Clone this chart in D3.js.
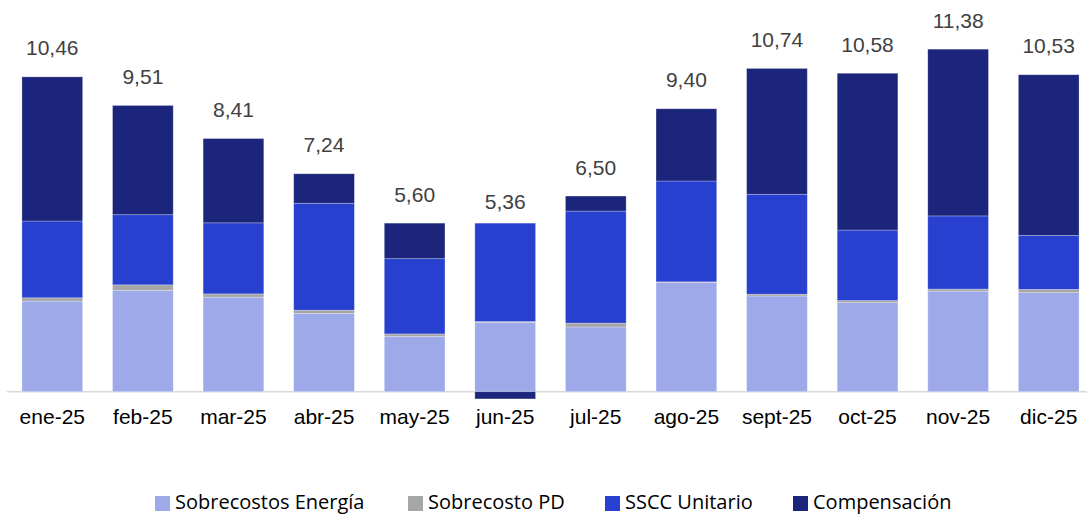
<!DOCTYPE html>
<html>
<head>
<meta charset="utf-8">
<script src="https://cdn.jsdelivr.net/npm/d3@7"></script>
<style>
  body { margin: 0; background: #fff; }
  .tick-label { font-family: Arial, "Liberation Sans", sans-serif; font-size: 21px; fill: #000; }
  .total-label { font-family: Arial, "Liberation Sans", sans-serif; font-size: 21px; fill: #404040; }
  .legend-text { font-family: "Open Sans", sans-serif; font-size: 20px; fill: #000; }
</style>
</head>
<body>
<div class="chart"></div>
<script>
// months and series values
var months = ["ene-25", "feb-25", "mar-25", "abr-25", "may-25", "jun-25",
              "jul-25", "ago-25", "sept-25", "oct-25", "nov-25", "dic-25"];
var energia = [3.01, 3.37, 3.14, 2.60, 1.84, 2.30, 2.15, 3.63, 3.18, 2.96, 3.34, 3.29];
var pd      = [0.11, 0.18, 0.11, 0.11, 0.08, 0.03, 0.13, 0.02, 0.06, 0.07, 0.07, 0.11];
var sscc    = [2.55, 2.33, 2.36, 3.55, 2.50, 3.27, 3.72, 3.35, 3.32, 2.34, 2.43, 1.79];
var compensacion = [4.79, 3.63, 2.80, 0.98, 1.18, -0.24, 0.50, 2.40, 4.18, 5.21, 5.54, 5.34];
var totals = [10.46, 9.51, 8.41, 7.24, 5.60, 5.36, 6.50, 9.40, 10.74, 10.58, 11.38, 10.53];

var seriesNames = ["Sobrecostos Energía", "Sobrecosto PD", "SSCC Unitario", "Compensación"];
var seriesColors = ["#9da9e9", "#a6a6a6", "#2740cf", "#1b257b"];

var svgWidth = 1087;
var svgHeight = 515;

var svg = d3.select(".chart")
    .append("svg")
    .attr("width", svgWidth)
    .attr("height", svgHeight);

// build rows for d3.stack
var rows = months.map(function (m, i) {
    return {
        month: m,
        "Sobrecostos Energía": energia[i],
        "Sobrecosto PD": pd[i],
        "SSCC Unitario": sscc[i],
        "Compensación": compensacion[i]
    };
});

var stacked = d3.stack()
    .keys(seriesNames)
    .offset(d3.stackOffsetDiverging)(rows);

var xScale = d3.scaleBand()
    .domain(months)
    .range([7, 1094])
    .paddingInner(0.33)
    .paddingOuter(0.165);

var yScale = d3.scaleLinear()
    .domain([0, 12])
    .range([391.7, 30.5]);

// axis line
svg.append("line")
    .attr("x1", 7)
    .attr("x2", svgWidth)
    .attr("y1", yScale(0))
    .attr("y2", yScale(0))
    .attr("stroke", "#d9d9d9")
    .attr("stroke-width", 1.5);

// bars
var layers = svg.selectAll("g.layer")
    .data(stacked)
    .enter()
    .append("g")
    .attr("class", "layer")
    .attr("fill", function (d, i) { return seriesColors[i]; });

layers.selectAll("rect")
    .data(function (d) { return d; })
    .enter()
    .append("rect")
    .attr("x", function (d) { return xScale(d.data.month); })
    .attr("y", function (d) { return yScale(Math.max(d[0], d[1])); })
    .attr("width", xScale.bandwidth())
    .attr("height", function (d) { return Math.abs(yScale(d[0]) - yScale(d[1])); })
    .attr("stroke", "rgba(255,255,255,0.35)")
    .attr("stroke-width", 0.75);

// x axis labels
var bottomAxis = d3.axisBottom(xScale).tickSize(0).tickPadding(0);
var axisG = svg.append("g")
    .attr("transform", "translate(0," + yScale(0) + ")")
    .call(bottomAxis);
axisG.select(".domain").remove();
axisG.selectAll("text")
    .attr("class", "tick-label")
    .attr("font-family", null)
    .attr("font-size", null)
    .attr("fill", null)
    .attr("dy", null)
    .attr("y", 32.8);

// total labels
svg.selectAll("text.total-label")
    .data(totals)
    .enter()
    .append("text")
    .attr("class", "total-label")
    .attr("text-anchor", "middle")
    .attr("x", function (d, i) { return xScale(months[i]) + xScale.bandwidth() / 2; })
    .attr("y", function (d) { return yScale(d) - 21.5; })
    .text(function (d) { return d.toFixed(2).replace(".", ","); });

// legend
var legendX = [155, 408, 605, 793];
var legend = svg.selectAll("g.legend")
    .data(seriesNames)
    .enter()
    .append("g")
    .attr("class", "legend")
    .attr("transform", function (d, i) { return "translate(" + legendX[i] + ",496)"; });

legend.append("rect")
    .attr("width", 15)
    .attr("height", 15)
    .attr("fill", function (d, i) { return seriesColors[i]; });

legend.append("text")
    .attr("class", "legend-text")
    .attr("x", 20)
    .attr("y", 13)
    .text(function (d) { return d; });
</script>
</body>
</html>
